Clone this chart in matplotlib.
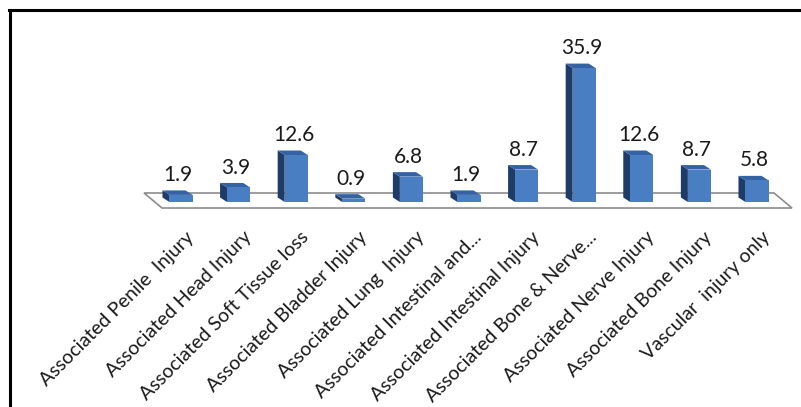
import matplotlib.pyplot as plt
from matplotlib.patches import Polygon
from matplotlib.lines import Line2D

categories = ['Associated Penile  Injury', 'Associated Head Injury',
              'Associated Soft Tissue loss', 'Associated Bladder Injury',
              'Associated Lung  Injury', 'Associated Intestinal and...',
              'Associated Intestinal Injury', 'Associated Bone & Nerve...',
              'Associated Nerve Injury', 'Associated Bone Injury',
              'Vascular  injury only']
values = [1.9, 3.9, 12.6, 0.9, 6.8, 1.9, 8.7, 35.9, 12.6, 8.7, 5.8]

plt.rcParams['font.family'] = ['Lato', 'DejaVu Sans']

W, H = 801, 407
fig = plt.figure(figsize=(W / 100, H / 100), dpi=100)

# axes laid out so that one category = 57.6 px and one unit = 3.73 px
px_x = 57.6
px_y = 3.73
xlim = (-1.0, 11.0)
ylim = (-4.0, 40.0)
left = 181 - 1.0 * px_x
bottom = H - 202 - 4.0 * px_y
ax = fig.add_axes([left / W, bottom / H,
                   (xlim[1] - xlim[0]) * px_x / W,
                   (ylim[1] - ylim[0]) * px_y / H])
ax.set_xlim(*xlim)
ax.set_ylim(*ylim)
ax.axis('off')

front_col = '#4a7ec2'
side_col = '#1f3c68'
top_col = '#3463a3'

# floor of the 3d chart
fdx, fdy = -18 / px_x, 15 / px_y
f_front = -6 / px_y
fx0, fx1 = -19 / px_x, 611 / px_x
floor = Polygon([(fx0, f_front), (fx1, f_front), (fx1 + fdx, f_front + fdy),
                 (fx0 + fdx, f_front + fdy)], closed=True,
                facecolor='white', edgecolor='#8c8c8c', lw=1.2, zorder=1)
ax.add_patch(floor)

# bars: front face, left side face and top face
w = 0.4
dx, dy = -7 / px_x, 4.5 / px_y
xs = list(range(len(values)))
ax.bar(xs, values, width=w, color=front_col, zorder=3)
for x, v in zip(xs, values):
    xl = x - w / 2
    xr = x + w / 2
    side = Polygon([(xl, 0), (xl, v), (xl + dx, v + dy), (xl + dx, dy)],
                   closed=True, facecolor=side_col, edgecolor='none', zorder=2)
    top = Polygon([(xl, v), (xr, v), (xr + dx, v + dy), (xl + dx, v + dy)],
                  closed=True, facecolor=top_col, edgecolor='none', zorder=2)
    ax.add_patch(side)
    ax.add_patch(top)
    ax.annotate(f'{v}', xy=(x, v), xytext=(-2, 10), textcoords='offset points',
                ha='center', va='baseline', fontsize=15, color='#1a1a1a')

for x, name in zip(xs, categories):
    ax.annotate(name, xy=(x, 0), xytext=(3, -19), textcoords='offset points',
                ha='right', va='top', rotation=45, rotation_mode='anchor',
                fontsize=14, color='#1a1a1a')

# frame lines along the top and the left side
fig.add_artist(Line2D([9 / W, 1], [1 - 10 / H, 1 - 10 / H], color='black', lw=2.2))
fig.add_artist(Line2D([10 / W, 10 / W], [0, 1 - 10 / H], color='black', lw=2.2))

fig.savefig('out.png', dpi=100, facecolor='white')
